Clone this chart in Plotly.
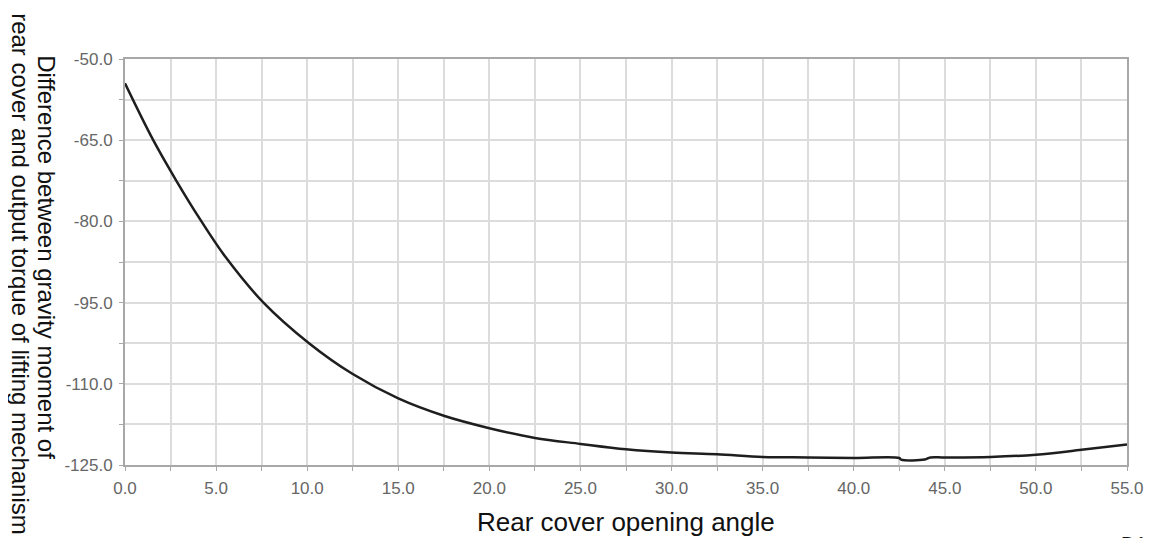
import plotly.graph_objects as go

# Rear cover opening angle (deg) and torque difference
angle = [0, 1.55, 2.82, 4.1, 5.5, 7.6, 10.1, 12.5, 15.0, 17.5, 20.0, 22.5,
         25.0, 27.5, 30.0, 32.5, 35.0, 37.5, 40.0, 42.5, 42.6, 43.9, 44.2,
         45.0, 47.5, 50.0, 52.5, 55.0]
torque_diff = [-54.5, -65.0, -72.5, -79.5, -86.5, -95.0, -102.5, -108.2, -112.7,
               -115.9, -118.2, -120.0, -121.1, -122.1, -122.7, -123.0, -123.5,
               -123.6, -123.7, -123.7, -124.0, -124.0, -123.6, -123.6, -123.5,
               -123.1, -122.2, -121.2]

x_ticks = [0, 5, 10, 15, 20, 25, 30, 35, 40, 45, 50, 55]
y_ticks = [-50, -65, -80, -95, -110, -125]

grid = "#dcdcdc"
axis_grey = "#a8a8a8"
tick_font = dict(family="Liberation Sans, Arial", size=17, color="#666666")
title_font = dict(family="Liberation Sans, Arial", size=24, color="#111111")

fig = go.Figure()
fig.add_trace(go.Scatter(
    x=angle, y=torque_diff, mode="lines",
    line=dict(color="#1e1e1e", width=2.5, shape="spline", smoothing=1.0),
    showlegend=False, hoverinfo="skip",
))

fig.update_xaxes(
    range=[0, 55], tickvals=x_ticks, ticktext=[f"{v:.1f}" for v in x_ticks],
    showgrid=True, gridcolor=grid, gridwidth=1.5,
    minor=dict(dtick=2.5, showgrid=True, gridcolor=grid, gridwidth=1.5,
               ticks="outside", ticklen=4, tickcolor=axis_grey),
    ticks="outside", ticklen=4, tickcolor=axis_grey,
    showline=True, linecolor=axis_grey, linewidth=2, mirror=True,
    zeroline=False, tickfont=tick_font, ticklabelstandoff=3,
)
fig.update_yaxes(
    range=[-125, -50], tickvals=y_ticks, ticktext=[f"{v:.1f}" for v in y_ticks],
    showgrid=True, gridcolor=grid, gridwidth=1.5,
    minor=dict(dtick=7.5, tick0=-125, showgrid=True, gridcolor=grid, gridwidth=1.5,
               ticks="outside", ticklen=4, tickcolor=axis_grey),
    ticks="outside", ticklen=4, tickcolor=axis_grey,
    showline=True, linecolor=axis_grey, linewidth=2, mirror=True,
    zeroline=False, tickfont=tick_font, ticklabelstandoff=3,
)

# y title, two lines reading top to bottom
fig.add_annotation(
    text="Difference between gravity moment of",
    xref="paper", yref="paper", x=0, y=0.512, xanchor="center", yanchor="middle",
    xshift=-78, textangle=90, showarrow=False, font=title_font,
)
fig.add_annotation(
    text="rear cover and output torque of lifting mechanism",
    xref="paper", yref="paper", x=0, y=0.47, xanchor="center", yanchor="middle",
    xshift=-104, textangle=90, showarrow=False, font=title_font,
)
fig.add_annotation(
    text="Rear cover opening angle",
    xref="paper", yref="paper", x=0.5, y=0, xanchor="center", yanchor="middle",
    yshift=-57, showarrow=False, font=dict(title_font, size=26),
)
# partly cut-off figure label in the lower right corner
fig.add_annotation(
    text="D11", xref="paper", yref="paper", x=1, y=0, xanchor="left", yanchor="top",
    xshift=-8, yshift=-66, showarrow=False,
    font=dict(family="Liberation Sans, Arial", size=20, color="#111111"),
)

# page body adds an 8px offset, so the figure is 8px smaller than the window
fig.update_layout(
    width=1148, height=530,
    margin=dict(l=117, r=25, t=51, b=73),
    paper_bgcolor="white", plot_bgcolor="white",
)

fig.write_html("out.html")
